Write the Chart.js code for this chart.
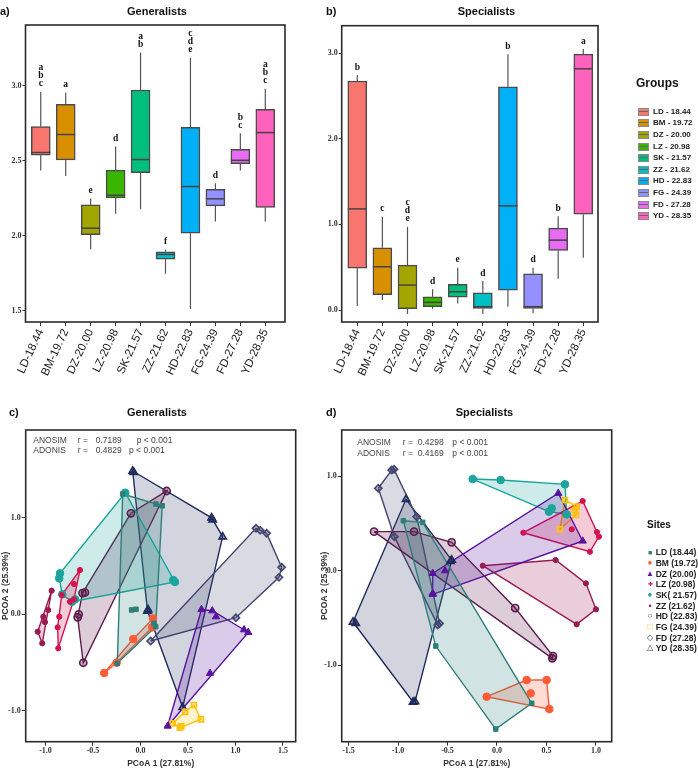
<!DOCTYPE html>
<html><head><meta charset="utf-8">
<script src="https://cdn.jsdelivr.net/npm/chart.js@4.4.1/dist/chart.umd.min.js"></script>
<style>
html,body{margin:0;padding:0;background:#fff;}
body{width:698px;height:771px;position:relative;overflow:hidden;font-family:'Liberation Sans',Arial,sans-serif;}
canvas{position:absolute;}
.t{position:absolute;white-space:nowrap;transform:translateY(-50%);line-height:1;color:#222;}
.sw{position:absolute;width:9px;height:6px;transform:translateY(-50%);border:1px solid #8a8a8a;}
.sw i{position:absolute;left:0;right:0;top:2px;height:1px;background:#666;}
</style></head><body>
<canvas id="ca" width="314" height="400" style="left:0;top:0"></canvas>
<canvas id="cb" width="393" height="400" style="left:290px;top:0"></canvas>
<canvas id="cc" width="314" height="411" style="left:0;top:360px"></canvas>
<canvas id="cd" width="369" height="411" style="left:300px;top:360px"></canvas>
<div id="legs"></div>
<script>
// ---------------- DATA ----------------
const categories = ['LD-18.44','BM-19.72','DZ-20.00','LZ-20.98','SK-21.57','ZZ-21.62','HD-22.83','FG-24.39','FD-27.28','YD-28.35'];
const groupLabels = ['LD - 18.44','BM - 19.72','DZ - 20.00','LZ - 20.98','SK - 21.57','ZZ - 21.62','HD - 22.83','FG - 24.39','FD - 27.28','YD - 28.35'];
const groupColors = ['#F8766D','#D89000','#A3A500','#39B600','#00BF7D','#00BFC4','#00B0F6','#9590FF','#E76BF3','#FF62BC'];

// Generalists (panel a) five-number summaries
const genMin = [2.436, 2.400, 1.911, 2.147, 2.178, 1.747, 1.511, 2.096, 2.436, 2.096];
const genQ1  = [2.538, 2.507, 2.007, 2.253, 2.422, 1.844, 2.018, 2.200, 2.482, 2.189];
const genMed = [2.556, 2.676, 2.051, 2.271, 2.509, 1.876, 2.329, 2.247, 2.504, 2.689];
const genQ3  = [2.729, 2.878, 2.207, 2.438, 2.973, 1.893, 2.724, 2.311, 2.578, 2.844];
const genMax = [2.960, 2.956, 2.249, 2.596, 3.224, 1.907, 3.189, 2.351, 2.684, 2.982];
const genLetters = ['abc','a','e','d','ab','f','cde','d','bc','abc'];
const genTicks = [1.5, 2.0, 2.5, 3.0];

// Specialists (panel b)
const specMin = [0.046, 0.116, -0.047, 0.016, 0.077, -0.047, 0.039, -0.039, 0.365, 0.610];
const specQ1  = [0.489, 0.178, 0.016, 0.039, 0.151, 0.019, 0.233, 0.019, 0.696, 1.119];
const specMed = [1.181, 0.505, 0.291, 0.089, 0.213, 0.039, 1.216, 0.039, 0.816, 2.817];
const specQ3  = [2.674, 0.726, 0.524, 0.155, 0.299, 0.202, 2.607, 0.423, 0.956, 2.988];
const specMax = [2.743, 1.088, 0.971, 0.241, 0.493, 0.338, 2.988, 0.493, 1.096, 3.047];
const specLetters = ['b','c','cde','d','e','d','b','d','b','a'];
const specTicks = [0, 1, 2, 3];

// PCoA sites
const siteNames  = ['LD','BM','DZ','LZ','SK','ZZ','HD','FG','FD','YD'];
const siteLabels = ['LD (18.44)','BM (19.72)','DZ (20.00)','LZ (20.98)','SK( 21.57)','ZZ (21.62)','HD (22.83)','FG (24.39)','FD (27.28)','YD (28.35)'];
const siteColors = ['#2F7E79','#FF5B37','#58139F','#D4124F','#1AA49B','#991A50','#5E1B4C','#FFC20A','#41456F','#1E2B5C'];
const genXTicks  = [-1.0, -0.5, 0.0, 0.5, 1.0, 1.5];
const specXTicks = [-1.5, -1.0, -0.5, 0.0, 0.5, 1.0];
const pcoaYTicks = [-1.0, 0.0, 1.0];

// Generalists PCoA (panel c)
const genLD = [[-0.187,1.247],[0.163,1.143],[0.229,1.125],[0.160,-0.128],[0.142,-0.093],[-0.244,-0.508],[-0.093,0.045],[-0.047,0.052]];
const genBM = [[0.132,-0.044],[0.124,-0.135],[-0.076,-0.256],[-0.382,-0.608],[-0.251,-0.502]];
const genDZ = [[0.642,0.050],[0.756,0.037],[0.795,-0.025],[1.135,-0.187],[1.090,-0.160],[0.732,-0.611],[0.286,-1.158]];
const genLZ = [[-0.637,0.459],[-0.700,0.314],[-0.829,0.200],[-0.855,-0.025],[-0.872,-0.135],[-0.865,-0.352],[-0.742,0.131],[-0.700,0.155]];
const genSK = [[-0.160,1.260],[-0.847,0.425],[-0.855,0.373],[-0.823,0.207],[-0.689,0.155],[-0.720,0.130],[0.345,0.355],[0.363,0.335]];
const genZZ = [[-0.935,0.245],[-0.971,0.045],[-1.023,-0.025],[-1.082,-0.180],[-1.034,-0.300],[-1.005,-0.080]];
const genHD = [[0.276,1.278],[-0.100,1.047],[-0.584,0.226],[-0.610,0.220],[-0.661,-0.031],[-0.650,0.000],[-0.602,-0.502]];
const genFG = [[0.563,-0.940],[0.637,-1.088],[0.416,-1.175],[0.339,-1.130],[0.470,-1.010],[0.430,-1.160]];
const genFD = [[1.216,0.891],[1.260,0.870],[1.328,0.839],[1.486,0.487],[1.458,0.383],[1.005,-0.035],[0.107,-0.277]];
const genYD = [[-0.082,1.485],[-0.070,1.470],[0.749,1.000],[0.760,0.980],[0.865,0.804],[0.444,-0.964],[0.074,0.034],[0.080,0.050]];

// Specialists PCoA (panel d)
const specLD = [[-0.946,0.530],[-0.751,0.513],[0.351,-1.406],[-0.013,-1.679],[-0.619,-0.799]];
const specBM = [[-0.104,-1.336],[0.300,-1.159],[0.502,-1.159],[0.528,-1.467],[0.340,-1.300]];
const specDZ = [[0.619,0.821],[0.866,0.315],[-0.649,-0.240],[-0.649,-0.028],[-0.525,0.000],[-0.650,-0.250]];
const specLZ = [[0.266,0.403],[0.866,0.739],[1.030,0.361],[0.939,0.201],[0.755,0.439],[1.010,0.410]];
const specSK = [[-0.245,0.972],[0.037,0.962],[0.687,0.916],[0.553,0.662],[0.525,0.626],[0.704,0.598]];
const specZZ = [[-0.144,0.053],[0.593,0.113],[0.899,-0.134],[1.000,-0.409],[0.805,-0.568]];
const specHD = [[-1.242,0.414],[-0.838,0.414],[-0.458,0.301],[0.184,-0.396],[0.559,-0.929],[0.566,-0.905]];
const specFG = [[0.687,0.750],[0.805,0.679],[0.798,0.591],[0.636,0.439],[0.788,0.644]];
const specFD = [[-1.064,1.068],[-1.040,1.075],[-1.199,0.874],[-1.037,0.361],[-0.811,0.573],[-0.599,-0.576],[-0.580,-0.560]];
const specYD = [[-0.919,0.757],[-1.427,-0.558],[-1.455,-0.544],[-0.828,-1.389],[-0.848,-1.392],[-0.458,0.113],[-0.470,0.100]];

// ---------------- STYLE / HELPERS ----------------
const FS = "'Liberation Sans', Arial, sans-serif";
const FSERIF = "'Liberation Serif', 'Times New Roman', serif";
const siteStyle  = ['rect','circle','triangle','circle','circle','circle','circle','rect','rectRot','triangle'];
const siteRadius = [3.2, 3.8, 4.2, 2.6, 3.8, 2.6, 3.6, 3.6, 3.6, 4.2];
const siteOpen   = [false,false,false,false,false,false,true,true,true,true];
const hullAlpha  = [0.22,0.22,0.22,0.22,0.22,0.22,0.22,0.2,0.2,0.2];

function rgba(hex, a){const n=parseInt(hex.slice(1),16);return `rgba(${n>>16&255},${n>>8&255},${n&255},${a})`;}
function convexHull(pts){
  const p=pts.map(a=>a.slice()).sort((a,b)=>a[0]-b[0]||a[1]-b[1]);
  const cr=(o,a,b)=>(a[0]-o[0])*(b[1]-o[1])-(a[1]-o[1])*(b[0]-o[0]);
  const lo=[];for(const q of p){while(lo.length>=2&&cr(lo[lo.length-2],lo[lo.length-1],q)<=0)lo.pop();lo.push(q);}
  const up=[];for(let i=p.length-1;i>=0;i--){const q=p[i];while(up.length>=2&&cr(up[up.length-2],up[up.length-1],q)<=0)up.pop();up.push(q);}
  up.pop();lo.pop();const h=lo.concat(up);h.push(h[0]);return h;
}
// invisible right-hand spacer axis so that the title is centred on the whole canvas
function spacer(w){return {type:'linear',position:'right',display:true,grid:{display:false},ticks:{display:false},border:{display:false},afterFit:s=>{s.width=w;}};}

function decoPlugin(label, lx, ly, texts){
  return {id:'deco', afterDraw(chart){
    const {ctx, chartArea:a}=chart; ctx.save();
    ctx.strokeStyle='#2a2a2a'; ctx.lineWidth=1.6;
    ctx.strokeRect(a.left,a.top,a.right-a.left,a.bottom-a.top);
    ctx.fillStyle='#111'; ctx.font=`bold 11px ${FS}`; ctx.textBaseline='middle'; ctx.textAlign='left';
    ctx.fillText(label,lx,ly);
    (texts||[]).forEach(t=>{ctx.font=`8.5px ${FS}`;ctx.fillStyle='#444';ctx.fillText(t[0],t[1],t[2]);});
    ctx.restore();
  }};
}
function boxPlugin(mins,q1s,meds,q3s,maxs,letters){
  return {id:'boxes',
    beforeDatasetsDraw(chart){
      const {ctx,scales:{x,y}}=chart; ctx.save(); ctx.strokeStyle='#555'; ctx.lineWidth=1.2;
      mins.forEach((mn,i)=>{const xp=x.getPixelForValue(i);ctx.beginPath();
        ctx.moveTo(xp,y.getPixelForValue(maxs[i]));ctx.lineTo(xp,y.getPixelForValue(q3s[i]));
        ctx.moveTo(xp,y.getPixelForValue(q1s[i]));ctx.lineTo(xp,y.getPixelForValue(mn));ctx.stroke();});
      ctx.restore();
    },
    afterDatasetsDraw(chart){
      const {ctx,scales:{x,y}}=chart; const meta=chart.getDatasetMeta(0); ctx.save();
      ctx.strokeStyle='#444'; ctx.lineWidth=1.5;
      meds.forEach((m,i)=>{const el=meta.data[i];const xp=x.getPixelForValue(i);const h=el.width/2;const yp=y.getPixelForValue(m);
        ctx.beginPath();ctx.moveTo(xp-h,yp);ctx.lineTo(xp+h,yp);ctx.stroke();});
      ctx.fillStyle='#111'; ctx.font=`bold 9.5px ${FSERIF}`; ctx.textAlign='center'; ctx.textBaseline='middle';
      letters.forEach((s,i)=>{const xp=x.getPixelForValue(i);const yt=y.getPixelForValue(maxs[i]);
        for(let k=0;k<s.length;k++){ctx.fillText(s[k],xp,yt-8-(s.length-1-k)*8);}});
      ctx.restore();
    }};
}

function boxChart(id, cfg){
  return new Chart(document.getElementById(id),{
    type:'bar',
    data:{datasets:[{data:categories.map((c,i)=>({x:i,y:[cfg.q1[i],cfg.q3[i]]})),
      backgroundColor:groupColors,borderColor:'#4a4a4a',borderWidth:1.5,borderSkipped:false,barThickness:19}]},
    options:{responsive:false,animation:false,devicePixelRatio:1,events:[],
      layout:{padding:0},
      plugins:{legend:{display:false},tooltip:{enabled:false},
        title:{display:true,text:cfg.title,color:'#111',font:{family:FS,size:11,weight:'bold',lineHeight:1},padding:{top:6.5,bottom:cfg.tpb}}},
      scales:{
        x:{type:'linear',min:cfg.xmin,max:cfg.xmax,offset:false,
          afterBuildTicks:s=>{s.ticks=categories.map((c,i)=>({value:i}));},
          ticks:{callback:v=>categories[v],minRotation:65,maxRotation:65,autoSkip:false,color:'#222',font:{family:FS,size:11.5},padding:1},
          grid:{display:true,drawOnChartArea:false,drawTicks:true,tickLength:4,color:'#333',offset:false},border:{display:false},
          afterFit:s=>{s.height=cfg.xh;}},
        y:{min:cfg.ymin,max:cfg.ymax,
          afterBuildTicks:s=>{s.ticks=cfg.yt.map(v=>({value:v}));},
          ticks:{callback:v=>v.toFixed(1),color:'#333',font:{family:FSERIF,size:8,weight:'bold'},padding:1},
          grid:{drawOnChartArea:false,drawTicks:true,tickLength:3,color:'#333'},border:{display:false},
          afterFit:s=>{s.width=cfg.yw;}},
        yr:spacer(cfg.padR)
      }},
    plugins:[boxPlugin(cfg.min,cfg.q1,cfg.med,cfg.q3,cfg.max,cfg.letters),decoPlugin(cfg.label,cfg.lx,12)]
  });
}

boxChart('ca',{title:'Generalists',label:'a)',lx:0,padR:29,tpb:7.5,xmin:-0.612,xmax:9.79,xh:78,yw:25.5,
  ymin:1.425,ymax:3.407,yt:genTicks,min:genMin,q1:genQ1,med:genMed,q3:genQ3,max:genMax,letters:genLetters});
boxChart('cb',{title:'Specialists',label:'b)',lx:36,padR:85,tpb:8.2,xmin:-0.62,xmax:9.586,xh:78,yw:51.7,
  ymin:-0.14,ymax:3.32,yt:specTicks,min:specMin,q1:specQ1,med:specMed,q3:specQ3,max:specMax,letters:specLetters});

function pcoaChart(id,sets,cfg){
  const datasets=[];
  sets.forEach((pts,i)=>{
    datasets.push({data:convexHull(pts).map(p=>({x:p[0],y:p[1]})),showLine:true,fill:'shape',tension:0,
      backgroundColor:rgba(siteColors[i],hullAlpha[i]),borderColor:siteColors[i],borderWidth:1.4,pointRadius:0,order:2});
    datasets.push({data:pts.map(p=>({x:p[0],y:p[1]})),showLine:false,pointStyle:siteStyle[i],pointRadius:siteRadius[i],
      backgroundColor:siteOpen[i]?rgba(siteColors[i],0.35):siteColors[i],borderColor:siteColors[i],borderWidth:siteOpen[i]?1.6:1,order:1});
  });
  return new Chart(document.getElementById(id),{
    type:'scatter',data:{datasets},
    options:{responsive:false,animation:false,devicePixelRatio:1,events:[],
      layout:{padding:0},
      plugins:{legend:{display:false},tooltip:{enabled:false},
        title:{display:true,text:cfg.title,color:'#111',font:{family:FS,size:11,weight:'bold',lineHeight:1},padding:{top:47.2,bottom:11.8}}},
      scales:{
        x:{type:'linear',min:cfg.xmin,max:cfg.xmax,
          afterBuildTicks:s=>{s.ticks=cfg.xt.map(v=>({value:v}));},
          ticks:{callback:v=>v.toFixed(1),maxRotation:0,autoSkip:false,color:'#333',font:{family:FSERIF,size:8,weight:'bold'},padding:0},
          grid:{drawOnChartArea:false,drawTicks:true,tickLength:4,color:'#333'},border:{display:false},
          title:{display:true,text:'PCoA 1 (27.81%)',color:'#333',font:{family:FS,size:8.5,weight:'bold',lineHeight:1.2},padding:{top:0,bottom:1.9}},
          afterFit:s=>{s.height=29.3;}},
        y:{min:cfg.ymin,max:cfg.ymax,
          afterBuildTicks:s=>{s.ticks=pcoaYTicks.map(v=>({value:v}));},
          ticks:{callback:v=>v.toFixed(1),color:'#333',font:{family:FSERIF,size:8,weight:'bold'},padding:1},
          grid:{drawOnChartArea:false,drawTicks:true,tickLength:4,color:'#333'},border:{display:false},
          title:{display:true,text:'PCOA 2 (25.39%)',color:'#333',font:{family:FS,size:8.5,weight:'bold',lineHeight:1.2},padding:{top:cfg.ytp,bottom:0}},
          afterFit:s=>{s.width=cfg.yw;}},
        yr:spacer(cfg.padR)
      }},
    plugins:[decoPlugin(cfg.label,cfg.lx,53,cfg.texts)]
  });
}

pcoaChart('cc',[genLD,genBM,genDZ,genLZ,genSK,genZZ,genHD,genFG,genFD,genYD],
  {title:'Generalists',label:'c)',lx:9,padR:18.3,xmin:-1.208,xmax:1.634,ymin:-1.32,ymax:1.91,xt:genXTicks,yw:25.7,ytp:1,
   texts:[['ANOSIM',33.3,81],['r =',77.7,81],['0.7189',95.7,81],['p < 0.001',136.7,81],
          ['ADONIS',33.3,91],['r =',77.7,91],['0.4829',95.7,91],['p < 0.001',129,91]]});
pcoaChart('cd',[specLD,specBM,specDZ,specLZ,specSK,specZZ,specHD,specFG,specFD,specYD],
  {title:'Specialists',label:'d)',lx:26,padR:57.3,xmin:-1.569,xmax:1.159,ymin:-1.813,ymax:1.492,xt:specXTicks,yw:41.7,ytp:19.4,
   texts:[['ANOSIM',57.3,82.7],['r =',102.7,82.7],['0.4298',117.7,82.7],['p < 0.001',152.3,82.7],
          ['ADONIS',57.3,93.7],['r =',102.7,93.7],['0.4169',117.7,93.7],['p < 0.001',152.3,93.7]]});

// ---------------- LEGENDS (HTML) ----------------
const legs=document.getElementById('legs');
let html=`<div class="t" style="left:636px;top:83px;font-weight:bold;font-size:12px;color:#111">Groups</div>`;
groupLabels.forEach((g,i)=>{const y=111.7+11.6*i;
  html+=`<div class="sw" style="left:638px;top:${y}px;background:${groupColors[i]}"><i></i></div>`;
  html+=`<div class="t" style="left:653px;top:${y}px;font-size:8px;font-weight:bold">${g}</div>`;});
const siteGlyph=['■','●','▲','✚','●','•','○','□','◇','△'];
const glyphSize=[7,8,8,6,8,9,8,8,8,8];
html+=`<div class="t" style="left:647px;top:525px;font-weight:bold;font-size:10px;color:#111">Sites</div>`;
siteLabels.forEach((s,i)=>{const y=552.3+10.67*i;
  html+=`<div class="t" style="left:650px;top:${y}px;font-size:${glyphSize[i]}px;color:${siteColors[i]};transform:translate(-50%,-50%)">${siteGlyph[i]}</div>`;
  html+=`<div class="t" style="left:655.7px;top:${y}px;font-size:8.5px;font-weight:bold">${s}</div>`;});
legs.innerHTML=html;
</script></body></html>
